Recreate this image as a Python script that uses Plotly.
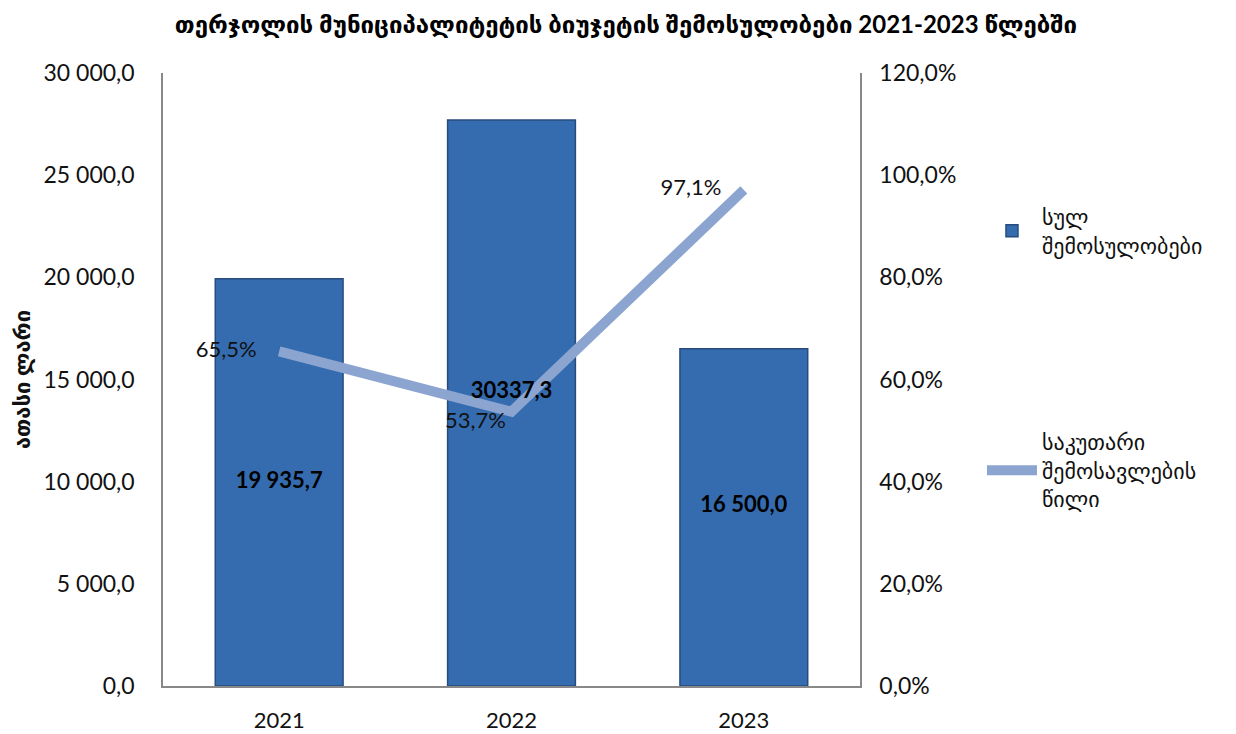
import plotly.graph_objects as go

years = ["2021", "2022", "2023"]
total_revenue = [19935.7, 27700.0, 16500.0]
total_labels = ["19 935,7", "30337,3", "16 500,0"]
own_share = [0.655, 0.537, 0.971]
share_labels = ["65,5%", "53,7%", "97,1%"]

title_text = "თერჯოლის მუნიციპალიტეტის ბიუჯეტის შემოსულობები 2021-2023 წლებში"
y_title = "ათასი ლარი"
bar_name = "სულ<br>შემოსულობები"
line_name = "საკუთარი<br>შემოსავლების<br>წილი"

FONT = "Lato, 'DejaVu Sans', sans-serif"
Y_MAX = 30000
Y2_MAX = 1.2
PAD = "\u00a0" * 4

fig = go.Figure()
fig.add_trace(go.Bar(
    x=years, y=total_revenue, name=bar_name,
    marker=dict(color="#356cb0", line=dict(color="#274c7c", width=1.5)),
    width=0.55, legendgroup="a",
))
fig.add_trace(go.Scatter(
    x=years, y=own_share, name=line_name, yaxis="y2",
    mode="lines+text",
    text=[share_labels[0] + PAD, share_labels[1] + "\u00a0", share_labels[2] + PAD],
    textposition=["middle left", "bottom left", "middle left"],
    textfont=dict(size=22, color="#111"),
    line=dict(color="#8ca5d0", width=10),
    legendgroup="b",
))
# bar value labels, placed on top layer (y2) near the middle of each bar
fig.add_trace(go.Scatter(
    x=years, y=[v / 2 * Y2_MAX / Y_MAX for v in total_revenue], yaxis="y2",
    mode="text", text=total_labels,
    textposition=["middle center", "top center", "top center"],
    textfont=dict(size=22, color="#000", family=FONT, weight="bold"),
    showlegend=False, hoverinfo="skip",
))

fig.update_layout(
    width=1236, height=734,
    margin=dict(l=155, r=384, t=65, b=56),
    paper_bgcolor="white", plot_bgcolor="white",
    separators=", ",
    font=dict(family=FONT, size=22, color="#111"),
    title=dict(text="<b>" + title_text + "</b>", x=0.5, xref="container", xanchor="center",
               y=0.977, yref="container", yanchor="middle", font=dict(size=24, color="#000")),
    xaxis=dict(showline=True, linecolor="#888", linewidth=1.5, ticks="", showgrid=False,
               tickfont=dict(size=22), ticklabelstandoff=14, automargin=False),
    yaxis=dict(range=[0, Y_MAX], dtick=5000, tickformat=",.1f", showline=True,
               linecolor="#888", linewidth=1.5, showgrid=False, zeroline=False,
               ticks="", tickfont=dict(size=23), ticklabelstandoff=22, automargin=False,
               title=dict(text="<b>" + y_title + "</b>", font=dict(size=22), standoff=14)),
    yaxis2=dict(range=[0, Y2_MAX], dtick=0.2, tickformat=".1%", overlaying="y", side="right",
                showline=True, linecolor="#888", linewidth=1.5, showgrid=False,
                zeroline=False, ticks="", tickfont=dict(size=23), ticklabelstandoff=13,
                automargin=False),
    legend=dict(x=1.175, xanchor="left", y=0.80, yanchor="top", tracegroupgap=165,
                font=dict(size=22), bgcolor="rgba(0,0,0,0)", itemwidth=50),
    showlegend=True,
)

fig.write_html("out.html")
